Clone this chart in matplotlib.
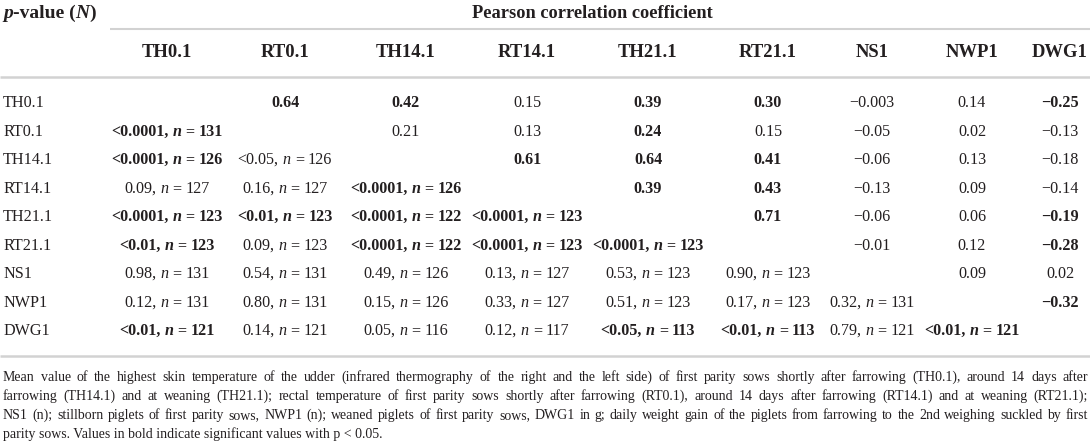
import matplotlib
matplotlib.use('Agg')
import matplotlib.pyplot as plt

plt.rcParams['font.family'] = ['Liberation Serif', 'DejaVu Serif']

# table content
labels = ['TH0.1', 'RT0.1', 'TH14.1', 'RT14.1', 'TH21.1', 'RT21.1', 'NS1', 'NWP1', 'DWG1']

# Pearson r, upper triangle (row i, columns i+1 ...)
r_upper = [
    ['0.64', '0.42', '0.15', '0.39', '0.30', '\u22120.003', '0.14', '\u22120.25'],
    ['0.21', '0.13', '0.24', '0.15', '\u22120.05', '0.02', '\u22120.13'],
    ['0.61', '0.64', '0.41', '\u22120.06', '0.13', '\u22120.18'],
    ['0.39', '0.43', '\u22120.13', '0.09', '\u22120.14'],
    ['0.71', '\u22120.06', '0.06', '\u22120.19'],
    ['\u22120.01', '0.12', '\u22120.28'],
    ['0.09', '0.02'],
    ['\u22120.32'],
    [],
]

# p-values and n, lower triangle (row i, columns 0 ... i-1)
p_lower = [
    [],
    ['<0.0001'],
    ['<0.0001', '<0.05'],
    ['0.09', '0.16', '<0.0001'],
    ['<0.0001', '<0.01', '<0.0001', '<0.0001'],
    ['<0.01', '0.09', '<0.0001', '<0.0001', '<0.0001'],
    ['0.98', '0.54', '0.49', '0.13', '0.53', '0.90'],
    ['0.12', '0.80', '0.15', '0.33', '0.51', '0.17', '0.32'],
    ['<0.01', '0.14', '0.05', '0.12', '<0.05', '<0.01', '0.79', '<0.01'],
]
n_lower = [
    [],
    [131],
    [126, 126],
    [127, 127, 126],
    [123, 123, 122, 123],
    [123, 123, 122, 123, 123],
    [131, 131, 126, 127, 123, 123],
    [131, 131, 126, 127, 123, 123, 131],
    [121, 121, 116, 117, 113, 113, 121, 121],
]

# significant pairs (shown in bold)
significant = [(0, 1), (0, 2), (0, 4), (0, 5), (0, 8), (1, 4), (2, 3), (2, 4),
               (2, 5), (3, 4), (3, 5), (4, 5), (4, 8), (5, 8), (7, 8)]

footnote = [
    'Mean value of the highest skin temperature of the udder (infrared thermography of the right and the left side) of first parity sows shortly after farrowing (TH0.1), around 14 days after',
    'farrowing (TH14.1) and at weaning (TH21.1); rectal temperature of first parity sows shortly after farrowing (RT0.1), around 14 days after farrowing (RT14.1) and at weaning (RT21.1);',
    'NS1 (n); stillborn piglets of first parity sows, NWP1 (n); weaned piglets of first parity sows, DWG1 in g; daily weight gain of the piglets from farrowing to the 2nd weighing suckled by first',
    'parity sows. Values in bold indicate significant values with p < 0.05.',
]

# layout (pixels)
W, H = 1090, 444
col_x = [167, 285, 406, 527, 648, 768, 872, 972, 1060]
row_y0, row_dy = 102, 28.5
ink = '#231f20'
rule = '#d2d2d2'
body = 11.6
head = 13.4

fig = plt.figure(figsize=(W / 100, H / 100), dpi=100)
ax = fig.add_axes([0, 0, 1, 1])
ax.set_xlim(0, W)
ax.set_ylim(H, 0)
ax.axis('off')
renderer = fig.canvas.get_renderer()


def width(t):
    return t.get_window_extent(renderer).width


def baseline(yc, size):
    return round(yc + 0.33 * size * 100 / 72)


def space_width(size, weight='normal'):
    a = ax.text(0, 0, 'a a', fontsize=size, fontweight=weight)
    b = ax.text(0, 0, 'aa', fontsize=size, fontweight=weight)
    w = width(a) - width(b)
    a.remove()
    b.remove()
    return w


def draw_runs(x, yc, runs, size, weight='normal', gap=None):
    # runs: list of (text, style) separated by spaces, centred on x
    base = baseline(yc, size)
    sp = space_width(size, weight) if gap is None else gap
    texts = [ax.text(0, base, s, fontsize=size, fontweight=weight, fontstyle=st,
                     color=ink, va='baseline', ha='left') for s, st in runs]
    widths = [width(t) for t in texts]
    total = sum(widths) + sp * (len(texts) - 1)
    cur = x - total / 2
    for t, w in zip(texts, widths):
        t.set_x(cur)
        cur += w + sp


def draw_pieces(x, yc, runs, size, weight='normal'):
    # runs glued together without spaces, starting at x
    base = baseline(yc, size)
    cur = x
    for s, st in runs:
        t = ax.text(cur, base, s, fontsize=size, fontweight=weight, fontstyle=st,
                    color=ink, va='baseline', ha='left')
        cur += width(t)


# title row
draw_pieces(3, 12, [('p', 'italic'), ('-value (', 'normal'), ('N', 'italic'), (')', 'normal')],
            14, weight='bold')
draw_runs(592, 12, [('Pearson correlation coefficient', 'normal')], 13.2, weight='bold')

# rules
ax.plot([110, W], [29, 29], color=rule, lw=1.5, solid_capstyle='butt')
ax.plot([0, W], [77, 77], color=rule, lw=1.8, solid_capstyle='butt')
ax.plot([0, W], [356, 356], color=rule, lw=1.8, solid_capstyle='butt')

# column headers
for j, lab in enumerate(labels):
    draw_runs(col_x[j], 51, [(lab, 'normal')], head, weight='bold')

# body
for i, lab in enumerate(labels):
    y = row_y0 + i * row_dy
    ax.text(3, baseline(y, body), lab, fontsize=body, color=ink, va='baseline', ha='left')
    for k, r in enumerate(r_upper[i]):
        j = i + 1 + k
        w = 'bold' if (i, j) in significant else 'normal'
        draw_runs(col_x[j], y, [(r, 'normal')], body, weight=w)
    for j, (p, n) in enumerate(zip(p_lower[i], n_lower[i])):
        w = 'bold' if (j, i) in significant else 'normal'
        draw_runs(col_x[j], y, [(p + ',', 'normal'), ('n', 'italic'), ('=', 'normal'),
                                (str(n), 'normal')], body, weight=w)

# footnote, justified except the last line
fsize = 10.0
fx0, fx1 = 3, 1088
for li, line in enumerate(footnote):
    base = baseline(376 + li * 19.3, fsize)
    if li == len(footnote) - 1:
        ax.text(fx0, base, line, fontsize=fsize, color=ink, va='baseline', ha='left')
        continue
    words = line.split(' ')
    texts = [ax.text(0, base, wd, fontsize=fsize, color=ink, va='baseline', ha='left')
             for wd in words]
    widths = [width(t) for t in texts]
    gap = (fx1 - fx0 - sum(widths)) / (len(words) - 1)
    cur = fx0
    for t, w in zip(texts, widths):
        t.set_x(cur)
        cur += w + gap

fig.savefig('out.png', dpi=100)
